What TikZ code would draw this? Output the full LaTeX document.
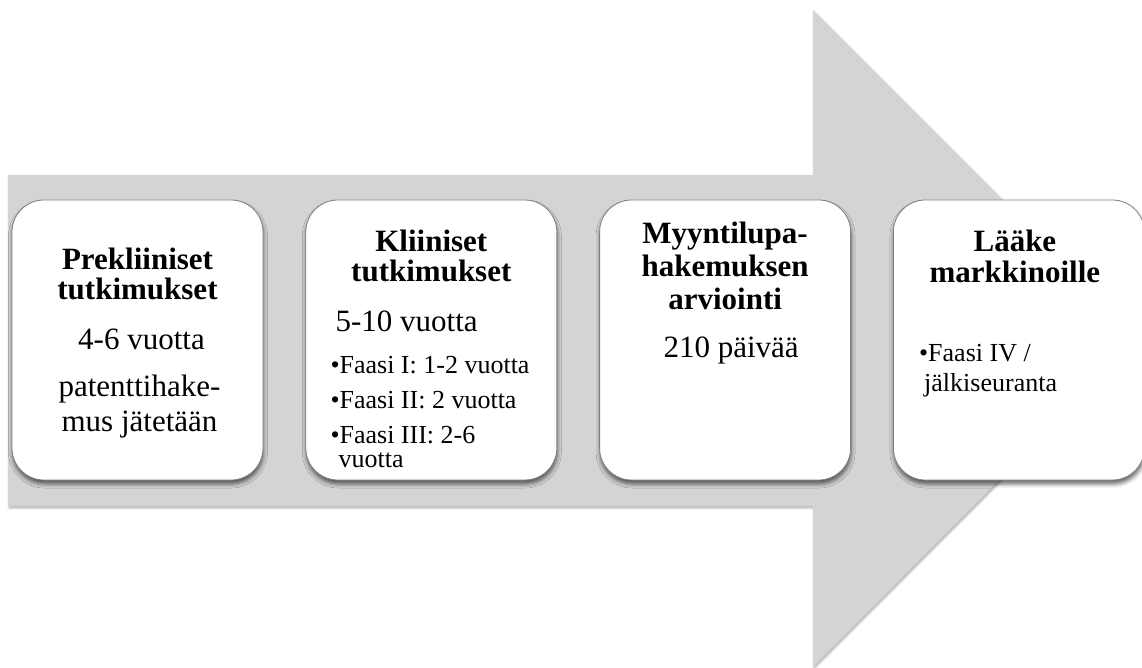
\documentclass[tikz,border=0pt]{standalone}
\usepackage{fontspec}
\setmainfont{Liberation Serif}
\usepackage{tikz}
\usetikzlibrary{positioning,calc,shadows.blur}
\definecolor{arrowgrey}{HTML}{D4D4D4}
\definecolor{edgegrey}{HTML}{7F7F7F}
\newcommand\bul{\makebox[9pt][l]{\textbullet}}

\begin{document}
\begin{tikzpicture}[x=1pt,y=-1pt,
  stage/.style={draw=edgegrey,line width=0.8pt,fill=white,rounded corners=32pt,
                minimum width=251pt,minimum height=280pt,inner sep=0pt,
                blur shadow={shadow xshift=0.5pt,shadow yshift=-4pt,
                             shadow blur radius=4pt,shadow opacity=60}},
  hd/.style={font=\fontsize{31}{30}\selectfont\bfseries,align=center,inner sep=0pt},
  tx/.style={font=\fontsize{31}{35}\selectfont,align=center,inner sep=0pt},
  bl/.style={font=\fontsize{26}{24}\selectfont,align=left,inner sep=0pt},
]
\useasboundingbox (0,0) rectangle (1142,668);
\fill[arrowgrey,blur shadow={shadow xshift=1pt,shadow yshift=-2pt,
                             shadow blur radius=2pt,shadow opacity=30}]
  (8,175) -- (813,175) -- (813,10) -- (1141,338) -- (813,667)
  -- (813,506) -- (8,506) -- cycle;

\node[stage] (pre) at (137.5,340) {};
\node[stage,right=42pt of pre] (kli) {};
\node[stage,right=42pt of kli] (myy) {};
\node[stage,right=42pt of myy] (laa) {};

\node[hd,anchor=base] (preh) at ($(pre.north)+(0,100)$) {Prekliiniset\\tutkimukset};
\node[tx,anchor=base] (pret) at ($(pre.north)+(4,150)$) {4-6 vuotta};
\node[tx,anchor=base] (prep) at ($(pre.north)+(2,232)$) {patenttihake-\\mus jätetään};

\node[hd,anchor=base] (klih) at ($(kli.north)+(0,82)$) {Kliiniset\\tutkimukset};
\node[tx,anchor=base west] (klit) at ($(kli.north west)+(30,132)$) {5-10 vuotta};
\node[bl,anchor=base west] (klib) at ($(kli.north west)+(25,268)$)
  {\bul Faasi I: 1-2 vuotta\\[11pt]
   \bul Faasi II: 2 vuotta\\[11pt]
   \bul Faasi III: 2-6\\
   \hspace*{8pt}vuotta};

\node[hd,anchor=base] (myyh) at ($(myy.north)+(0,110)$) {Myyntilupa-\\[3pt]hakemuksen\\[3pt]arviointi};
\node[tx,anchor=base] (myyt) at ($(myy.north)+(6,158)$) {210 päivää};

\node[hd,anchor=base] (laah) at ($(laa.north)+(-4,83)$) {Lääke\\[1pt]markkinoille};
\node[bl,anchor=base west] (laab) at ($(laa.north west)+(26,192)$)
  {\bul Faasi IV /\\[6pt]
   \hspace*{5pt}jälkiseuranta};
\end{tikzpicture}
\end{document}
